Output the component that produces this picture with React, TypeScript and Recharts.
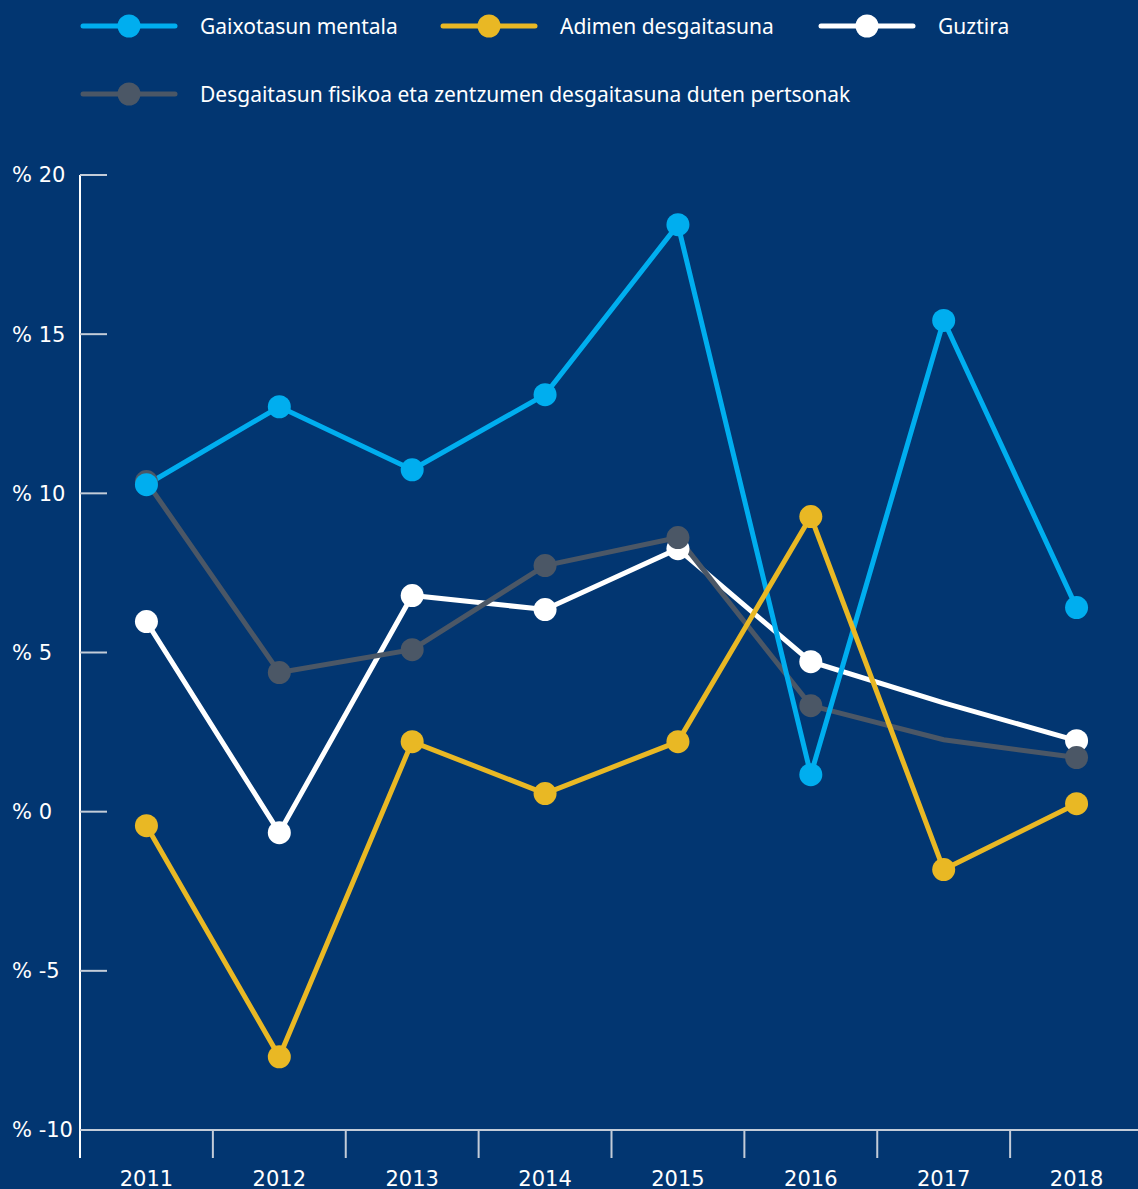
import React from "react";
import { LineChart, Line, XAxis, YAxis } from "recharts";

const years = ["2011", "2012", "2013", "2014", "2015", "2016", "2017", "2018"];
const mentala = [10.27, 12.72, 10.74, 13.1, 18.44, 1.16, 15.43, 6.41];
const adimen = [-0.44, -7.7, 2.2, 0.57, 2.2, 9.27, -1.82, 0.25];
const guztira = [5.97, -0.66, 6.79, 6.35, 8.26, 4.71, 3.42, 2.23];
const fisikoa = [10.37, 4.37, 5.09, 7.73, 8.61, 3.33, 2.26, 1.7];
const yTicks = [-10, -5, 0, 5, 10, 15, 20];
const hiddenDotIndexes = [6];

const data = years.map((y, i) => ({
  year: y,
  mentala: mentala[i],
  adimen: adimen[i],
  guztira: guztira[i],
  fisikoa: fisikoa[i],
}));

const BG = "#023671";
const BLUE = "#00aeef";
const YELLOW = "#e9b824";
const WHITE = "#ffffff";
const GRAY = "#4b5766";
const AXIS_GRAY = "#c3ccd8";

const W = 1143;
const H = 1189;
const BAND = (W - 80) / years.length;

const legendItems = [
  { name: "Gaixotasun mentala", color: BLUE, left: 80, top: 26 },
  { name: "Adimen desgaitasuna", color: YELLOW, left: 440, top: 26 },
  { name: "Guztira", color: WHITE, left: 818, top: 26 },
  { name: "Desgaitasun fisikoa eta zentzumen desgaitasuna duten pertsonak", color: GRAY, left: 80, top: 94 },
];

const makeDot = (color: string, skip: number[]) => (props: any) => {
  const { cx, cy, index } = props;
  if (skip.includes(index) || cx == null || cy == null) return <g key={`d-${index}`} />;
  return <circle key={`d-${index}`} cx={cx} cy={cy} r={11.5} fill={color} stroke="none" />;
};

const YTick = (props: any) => {
  const { y, payload } = props;
  return (
    <g>
      <line x1={80} x2={107} y1={y} y2={y} stroke={AXIS_GRAY} strokeWidth={2} />
      <text x={12} y={y} dy="0.35em" textAnchor="start" fill="#ffffff" fontSize={21} fontFamily="DejaVu Sans">
        {`% ${payload.value}`}
      </text>
    </g>
  );
};

const XTick = (props: any) => {
  const { x, payload, index } = props;
  const bx = x - BAND / 2;
  return (
    <g>
      <line x1={bx} x2={bx} y1={1130} y2={1158} stroke={index === 0 ? "#ffffff" : AXIS_GRAY} strokeWidth={2} />
      <text x={x} y={1186} textAnchor="middle" fill="#ffffff" fontSize={21} fontFamily="DejaVu Sans">
        {payload.value}
      </text>
    </g>
  );
};

export default function App() {
  return (
    <div
      style={{
        position: "absolute",
        left: 0,
        top: 0,
        width: 1138,
        height: H,
        background: BG,
        overflow: "hidden",
      }}
    >
      {legendItems.map((it) => (
        <div
          key={it.name}
          style={{
            position: "absolute",
            left: it.left,
            top: it.top - 15,
            height: 30,
            display: "flex",
            alignItems: "center",
            whiteSpace: "nowrap",
          }}
        >
          <svg width={98} height={30} style={{ display: "block" }}>
            <line x1={3} x2={95} y1={15} y2={15} stroke={it.color} strokeWidth={5} strokeLinecap="round" />
            <circle cx={49} cy={15} r={11.5} fill={it.color} />
          </svg>
          <span
            style={{
              marginLeft: 22,
              color: "#ffffff",
              fontSize: 21,
              fontFamily: "'Noto Sans', sans-serif",
              lineHeight: "30px",
            }}
          >
            {it.name}
          </span>
        </div>
      ))}
      <div style={{ position: "absolute", left: 0, top: 0 }}>
        <LineChart width={W} height={H} data={data} margin={{ top: 175, right: 0, bottom: 0, left: 0 }}>
          <XAxis
            dataKey="year"
            height={59}
            padding={{ left: BAND / 2, right: BAND / 2 }}
            axisLine={{ stroke: AXIS_GRAY, strokeWidth: 2 }}
            tickLine={false}
            tickSize={0}
            tickMargin={0}
            interval={0}
            tick={<XTick />}
          />
          <YAxis
            width={80}
            domain={[-10, 20]}
            ticks={yTicks}
            interval={0}
            axisLine={{ stroke: "#ffffff", strokeWidth: 2 }}
            tickLine={false}
            tickSize={0}
            tickMargin={0}
            tick={<YTick />}
          />
          <Line
            dataKey="guztira"
            stroke={WHITE}
            strokeWidth={5}
            dot={makeDot(WHITE, hiddenDotIndexes)}
            activeDot={false}
            isAnimationActive={false}
          />
          <Line
            dataKey="fisikoa"
            stroke={GRAY}
            strokeWidth={5}
            dot={makeDot(GRAY, hiddenDotIndexes)}
            activeDot={false}
            isAnimationActive={false}
          />
          <Line
            dataKey="mentala"
            stroke={BLUE}
            strokeWidth={5}
            dot={makeDot(BLUE, [])}
            activeDot={false}
            isAnimationActive={false}
          />
          <Line
            dataKey="adimen"
            stroke={YELLOW}
            strokeWidth={5}
            dot={makeDot(YELLOW, [])}
            activeDot={false}
            isAnimationActive={false}
          />
        </LineChart>
      </div>
    </div>
  );
}
